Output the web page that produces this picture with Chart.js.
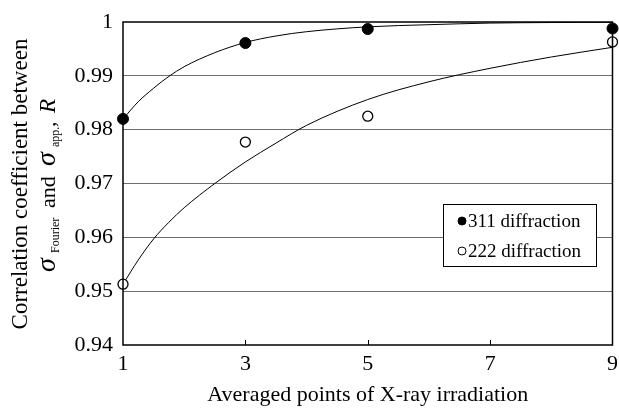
<!DOCTYPE html>
<html>
<head>
<meta charset="utf-8">
<script src="https://cdn.jsdelivr.net/npm/chart.js@4.4.1/dist/chart.umd.min.js"></script>
<style>
  html, body { margin: 0; padding: 0; background: #fff; }
  #wrap { width: 619px; height: 410px; }
</style>
</head>
<body>
<div id="wrap"><canvas id="chart" width="619" height="410"></canvas></div>
<script>
// measured points
const xPoints = [1, 3, 5, 9];
const r311 = [0.982, 0.9961, 0.9987, 0.9988];
const r222 = [0.9513, 0.9777, 0.9825, 0.9963];

// fitted curves
const fitX = [1, 1.25, 1.5, 1.75, 2, 2.5, 3, 3.5, 4, 5, 6, 7, 8, 9];
const fit311 = [0.9820, 0.9852, 0.9877, 0.9899, 0.9917, 0.9943, 0.9962, 0.9974, 0.9982, 0.9991, 0.9995, 0.9998, 0.9999, 0.99995];
const fit222 = [0.9513, 0.9558, 0.9597, 0.9628, 0.9655, 0.9700, 0.9740, 0.9775, 0.9808, 0.9856, 0.9889, 0.9914, 0.9935, 0.9953];

const xTicks = [1, 3, 5, 7, 9];
const yTicks = ['0.94', '0.95', '0.96', '0.97', '0.98', '0.99', '1'];
const legendLabels = ['311 diffraction', '222 diffraction'];

const FONT = '"Liberation Serif", "Times New Roman", serif';

function toXY(xs, ys) {
    return xs.map((x, i) => ({ x: x, y: ys[i] }));
}

const decorPlugin = {
    id: 'decor',
    afterDatasetsDraw(chart) {
        const ctx = chart.ctx;
        const a = chart.chartArea;
        const xs = chart.scales.x;
        ctx.save();

        // frame
        ctx.strokeStyle = '#000';
        ctx.lineWidth = 1.5;
        ctx.strokeRect(a.left, a.top, a.right - a.left, a.bottom - a.top);

        // inward ticks on x axis
        ctx.lineWidth = 1;
        xTicks.slice(1, -1).forEach(v => {
            const px = Math.round(xs.getPixelForValue(v)) + 0.5;
            ctx.beginPath();
            ctx.moveTo(px, a.bottom);
            ctx.lineTo(px, a.bottom - 5);
            ctx.stroke();
        });

        // legend box
        const lx = 443, ly = 204, lw = 153, lh = 62;
        ctx.fillStyle = '#fff';
        ctx.fillRect(lx, ly, lw, lh);
        ctx.lineWidth = 1;
        ctx.strokeRect(lx + 0.5, ly + 0.5, lw, lh);
        ctx.font = '19px ' + FONT;
        ctx.textBaseline = 'middle';
        ctx.textAlign = 'left';
        const fills = ['#000', '#fff'];
        legendLabels.forEach((t, i) => {
            const cy = ly + 17 + i * 30;
            ctx.beginPath();
            ctx.arc(lx + 19, cy, 4, 0, Math.PI * 2);
            ctx.fillStyle = fills[i];
            ctx.fill();
            ctx.strokeStyle = '#000';
            ctx.lineWidth = 1;
            ctx.stroke();
            ctx.fillStyle = '#000';
            ctx.fillText(t, lx + 25, cy + 1);
        });

        // x title
        ctx.font = '22px ' + FONT;
        ctx.textAlign = 'center';
        ctx.textBaseline = 'alphabetic';
        ctx.fillText('Averaged points of X-ray irradiation', (a.left + a.right) / 2, 401);

        // y title, two rotated lines
        ctx.save();
        ctx.translate(27, 184);
        ctx.rotate(-Math.PI / 2);
        ctx.font = '23px ' + FONT;
        ctx.textAlign = 'center';
        ctx.fillText('Correlation coefficient between', 0, 0);
        ctx.restore();

        // second line: pieces placed along the rotated baseline (offset from its start)
        const parts = [
            { t: 'σ', f: 'italic 28px ' + FONT, at: 0, dy: 0 },
            { t: 'Fourier', f: '12px ' + FONT, at: 19, dy: 4 },
            { t: 'and', f: '22px ' + FONT, at: 64, dy: 0 },
            { t: 'σ', f: 'italic 28px ' + FONT, at: 106, dy: 0 },
            { t: 'app.', f: '12px ' + FONT, at: 125, dy: 4 },
            { t: ',', f: '22px ' + FONT, at: 145, dy: 0 },
            { t: 'R', f: 'italic 23px ' + FONT, at: 159, dy: 0 }
        ];
        ctx.save();
        ctx.translate(55, 272);
        ctx.rotate(-Math.PI / 2);
        ctx.textAlign = 'left';
        parts.forEach(p => {
            ctx.font = p.f;
            ctx.fillText(p.t, p.at, p.dy);
        });
        ctx.restore();

        ctx.restore();
    }
};

function initChart() {
    const ctx = document.getElementById('chart').getContext('2d');
    new Chart(ctx, {
        type: 'scatter',
        data: {
            datasets: [
                {
                    label: '311 fit',
                    data: toXY(fitX, fit311),
                    showLine: true,
                    borderColor: '#000',
                    borderWidth: 1,
                    pointRadius: 0,
                    cubicInterpolationMode: 'monotone',
                    order: 3
                },
                {
                    label: '222 fit',
                    data: toXY(fitX, fit222),
                    showLine: true,
                    borderColor: '#000',
                    borderWidth: 1,
                    pointRadius: 0,
                    cubicInterpolationMode: 'monotone',
                    order: 4
                },
                {
                    label: legendLabels[0],
                    data: toXY(xPoints, r311),
                    pointRadius: 5.5,
                    pointBackgroundColor: '#000',
                    pointBorderColor: '#000',
                    pointBorderWidth: 1,
                    clip: false,
                    order: 1
                },
                {
                    label: legendLabels[1],
                    data: toXY(xPoints, r222),
                    pointRadius: 5,
                    pointBackgroundColor: '#fff',
                    pointBorderColor: '#000',
                    pointBorderWidth: 1.3,
                    clip: false,
                    order: 2
                }
            ]
        },
        options: {
            responsive: false,
            animation: false,
            devicePixelRatio: 1,
            layout: { padding: { top: 22, right: 6, left: 0, bottom: 0 } },
            plugins: {
                legend: { display: false },
                tooltip: { enabled: false }
            },
            scales: {
                x: {
                    type: 'linear',
                    min: 1,
                    max: 9,
                    afterBuildTicks: s => { s.ticks = xTicks.map(v => ({ value: v })); },
                    afterFit: s => { s.height = 65; s.paddingLeft = 0; s.paddingRight = 0; },
                    grid: { display: false, drawTicks: false },
                    border: { display: false },
                    ticks: {
                        color: '#000',
                        padding: 6,
                        font: { family: FONT, size: 22 }
                    }
                },
                y: {
                    min: 0.94,
                    max: 1,
                    afterBuildTicks: s => { s.ticks = yTicks.map(v => ({ value: parseFloat(v) })); },
                    afterFit: s => { s.width = 123; s.paddingTop = 0; s.paddingBottom = 0; },
                    grid: {
                        drawTicks: false,
                        color: c => (c.index === 0 || c.index === yTicks.length - 1) ? 'rgba(0,0,0,0)' : '#6e6e6e',
                        lineWidth: 1
                    },
                    border: { display: false },
                    ticks: {
                        color: '#000',
                        padding: 10,
                        font: { family: FONT, size: 22 },
                        callback: (v, i) => yTicks[i]
                    }
                }
            }
        },
        plugins: [decorPlugin]
    });
}

window.addEventListener('load', initChart);
</script>
</body>
</html>
